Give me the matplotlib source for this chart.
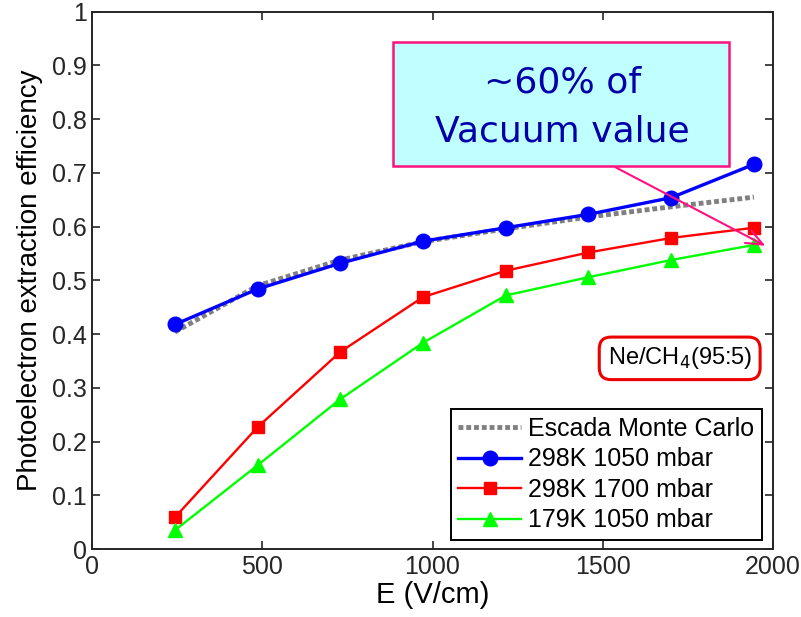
import matplotlib
matplotlib.use("Agg")
import matplotlib.pyplot as plt
from matplotlib import font_manager
from matplotlib.patches import Rectangle

E = [243, 486, 729, 972, 1215, 1458, 1701, 1944]
escada = [0.404, 0.490, 0.538, 0.572, 0.596, 0.618, 0.637, 0.655]
k298_1050 = [0.418, 0.484, 0.532, 0.573, 0.598, 0.623, 0.654, 0.716]
k298_1700 = [0.059, 0.227, 0.367, 0.469, 0.518, 0.552, 0.579, 0.598]
k179_1050 = [0.035, 0.156, 0.279, 0.384, 0.472, 0.506, 0.538, 0.566]

labels = ["Escada Monte Carlo", "298K 1050 mbar", "298K 1700 mbar", "179K 1050 mbar"]

names = {f.name for f in font_manager.fontManager.ttflist}
narrow = "Liberation Sans Narrow" if "Liberation Sans Narrow" in names else "Liberation Sans"
plt.rcParams["font.family"] = ["Liberation Sans", "DejaVu Sans"]

fig = plt.figure(figsize=(8.01, 6.17), dpi=100)
ax = fig.add_axes([0.115, 0.110, 0.850, 0.871])

ax.plot(E, escada, color="#808080", lw=3.5, linestyle=(0, (1, 0.6)), label=labels[0])
ax.plot(E, k298_1050, color="#0000ff", lw=2.4, marker="o", ms=10.5, label=labels[1])
ax.plot(E, k298_1700, color="#ff0000", lw=1.7, marker="s", ms=8.5, label=labels[2])
ax.plot(E, k179_1050, color="#00ff00", lw=1.7, marker="^", ms=9.5, label=labels[3])

ax.set_xlim(0, 2000)
ax.set_ylim(0, 1)
ax.set_xticks([0, 500, 1000, 1500, 2000])
ax.set_yticks([0, 0.1, 0.2, 0.3, 0.4, 0.5, 0.6, 0.7, 0.8, 0.9, 1])
ax.set_yticklabels(["0", "0.1", "0.2", "0.3", "0.4", "0.5", "0.6", "0.7", "0.8", "0.9", "1"])
ax.tick_params(direction="in", length=6, width=1.2, top=True, right=True,
               labelsize=18, colors="#262626", pad=4)
for lab in ax.get_xticklabels() + ax.get_yticklabels():
    lab.set_fontfamily(narrow)
for s in ax.spines.values():
    s.set_color("#262626")
    s.set_linewidth(1.4)

ax.set_xlabel("E (V/cm)", fontsize=21, family=narrow, labelpad=2)
ax.set_ylabel("Photoelectron extraction efficiency", fontsize=20, labelpad=6)

leg = ax.legend(loc="lower right", bbox_to_anchor=(0.984, 0.017), borderaxespad=0,
                fontsize=18, fancybox=False, framealpha=1, handlelength=2.5,
                handletextpad=0.3, labelspacing=0.26, borderpad=0.3)
leg.get_frame().set_edgecolor("black")
leg.get_frame().set_linewidth(1.4)

# gas label
ax.text(0.863, 0.355, "Ne/CH$_4$(95:5)", transform=ax.transAxes, fontsize=17,
        ha="center", va="center",
        bbox=dict(boxstyle="round,pad=0.35,rounding_size=0.5", fc="white",
                  ec="#ee0000", lw=2.2))

# callout box
ax.add_patch(Rectangle((0.442, 0.713), 0.493, 0.231, transform=ax.transAxes,
                       fc="#c0ffff", ec="#ff1080", lw=1.8, zorder=5))
ax.text(0.691, 0.868, "~60% of", transform=ax.transAxes, fontsize=26,
        family="DejaVu Sans", color="#0000aa", ha="center", va="center", zorder=6)
ax.text(0.691, 0.777, "Vacuum value", transform=ax.transAxes, fontsize=26,
        family="DejaVu Sans", color="#0000aa", ha="center", va="center", zorder=6)
ax.annotate("", xy=(1985, 0.562), xytext=(1530, 0.713),
            arrowprops=dict(arrowstyle="->,head_length=1.2,head_width=0.5",
                            color="#ff1080", lw=1.5), zorder=6)

fig.savefig("out.png", dpi=100)
